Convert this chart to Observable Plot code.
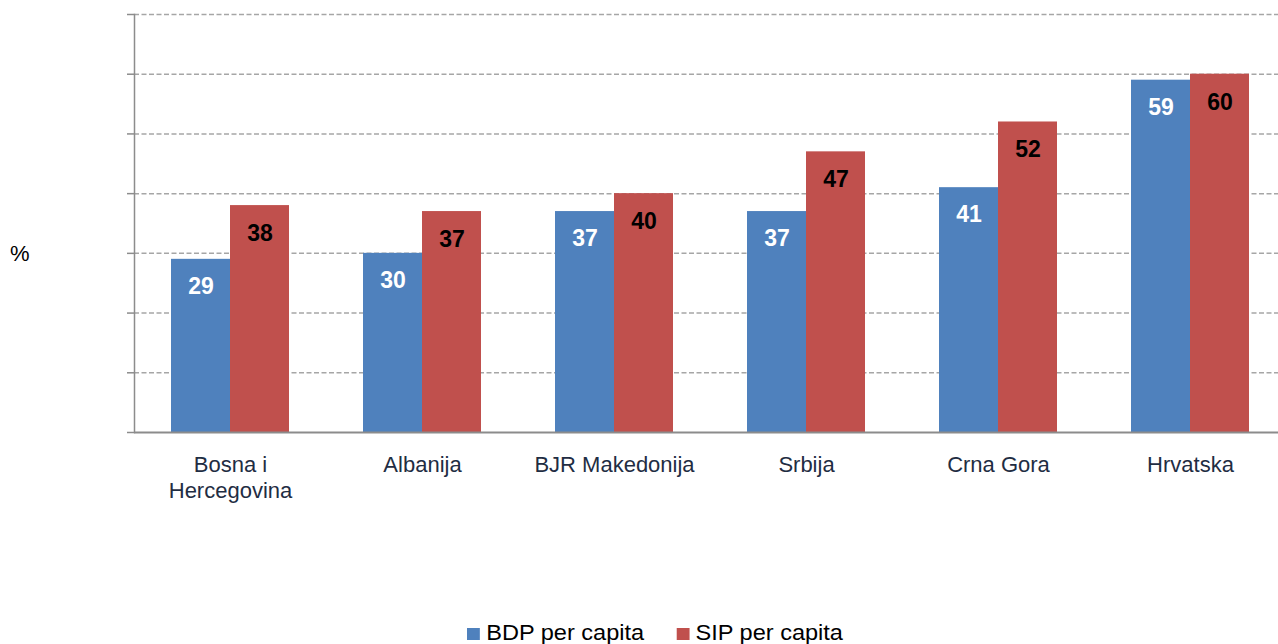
<!DOCTYPE html>
<html>
<head>
<meta charset="utf-8">
<script src="https://cdn.jsdelivr.net/npm/d3@7"></script>
<script src="https://cdn.jsdelivr.net/npm/@observablehq/plot@0.6"></script>
<style>
  html, body { margin: 0; padding: 0; background: #fff; overflow: hidden; width: 1278px; height: 644px; }
  #wrap { position: relative; width: 1278px; height: 644px; overflow: hidden; font-family: "Liberation Sans", Arial, sans-serif; }
  #wrap svg { display: block; max-width: none !important; height: 616px !important; width: 1291px !important; }
  #ylab { position: absolute; left: 10px; top: 240px; font-size: 22px; color: #000; line-height: 28px; }
  #legend { position: absolute; left: 467px; top: 616px; height: 34px; line-height: 34px; font-size: 22px; color: #000; white-space: nowrap; transform: scaleX(1.07); transform-origin: left center; }
  #legend .sw { display: inline-block; width: 12px; height: 12px; margin-right: 6px; vertical-align: 0px; }
  #legend .item { display: inline-block; margin-right: 30px; }
</style>
</head>
<body>
<div id="wrap">
  <div id="chart"></div>
  <div id="ylab">%</div>
  <div id="legend"></div>
</div>
<script>
const countries = ["Bosna i Hercegovina", "Albanija", "BJR Makedonija", "Srbija", "Crna Gora", "Hrvatska"];
const countryLabels = ["Bosna i\nHercegovina", "Albanija", "BJR Makedonija", "Srbija", "Crna Gora", "Hrvatska"];
const seriesNames = ["BDP per capita", "SIP per capita"];
const bdp = [29, 30, 37, 37, 41, 59];
const sip = [38, 37, 40, 47, 52, 60];
const yTicks = [0, 10, 20, 30, 40, 50, 60, 70];
const colors = ["#4F81BD", "#C0504D"];

const bdpData = countries.map((c, i) => ({country: c, value: bdp[i]}));
const sipData = countries.map((c, i) => ({country: c, value: sip[i]}));
const labelOf = new Map(countries.map((c, i) => [c, countryLabels[i]]));

const gridColor = "#a6a6a6";
const axisColor = "#8c8c8c";

const chart = Plot.plot({
  width: 1291,
  height: 616,
  marginLeft: 134,
  marginRight: 5,
  marginTop: 14,
  marginBottom: 184,
  style: {fontFamily: "Liberation Sans, Arial, sans-serif", background: "#fff", maxWidth: "none"},
  x: {type: "band", domain: countries, padding: 0},
  y: {domain: [0, 70], axis: null},
  marks: [
    Plot.ruleY(yTicks.filter(d => d > 0), {stroke: gridColor, strokeWidth: 1.5, strokeDasharray: "5,2.5"}),
    Plot.barY(bdpData, {x: "country", y: "value", fill: colors[0], insetLeft: 37, insetRight: 96}),
    Plot.barY(sipData, {x: "country", y: "value", fill: colors[1], insetLeft: 96, insetRight: 37}),
    Plot.frame({anchor: "left", stroke: axisColor, strokeWidth: 1.5}),
    Plot.ruleY([0], {stroke: axisColor, strokeWidth: 2}),
    Plot.axisY({ticks: yTicks, tickSize: 7, tickFormat: () => "", label: null, stroke: axisColor, strokeWidth: 1.5}),
    Plot.axisX({tickSize: 0, tickPadding: 21, fontSize: 22, fill: "#1f2d43", lineHeight: 1.18, tickFormat: d => labelOf.get(d), label: null}),
    Plot.text(bdpData, {x: "country", y: "value", text: d => String(d.value), dx: -29.5, dy: 27, fill: "#fff", fontWeight: "bold", fontSize: 23}),
    Plot.text(sipData, {x: "country", y: "value", text: d => String(d.value), dx: 29.5, dy: 28, fill: "#000", fontWeight: "bold", fontSize: 23})
  ]
});
document.getElementById("chart").appendChild(chart);

const legend = document.getElementById("legend");
seriesNames.forEach((name, i) => {
  const item = document.createElement("span");
  item.className = "item";
  const sw = document.createElement("span");
  sw.className = "sw";
  sw.style.background = colors[i];
  item.appendChild(sw);
  item.appendChild(document.createTextNode(name));
  legend.appendChild(item);
});
</script>
</body>
</html>
